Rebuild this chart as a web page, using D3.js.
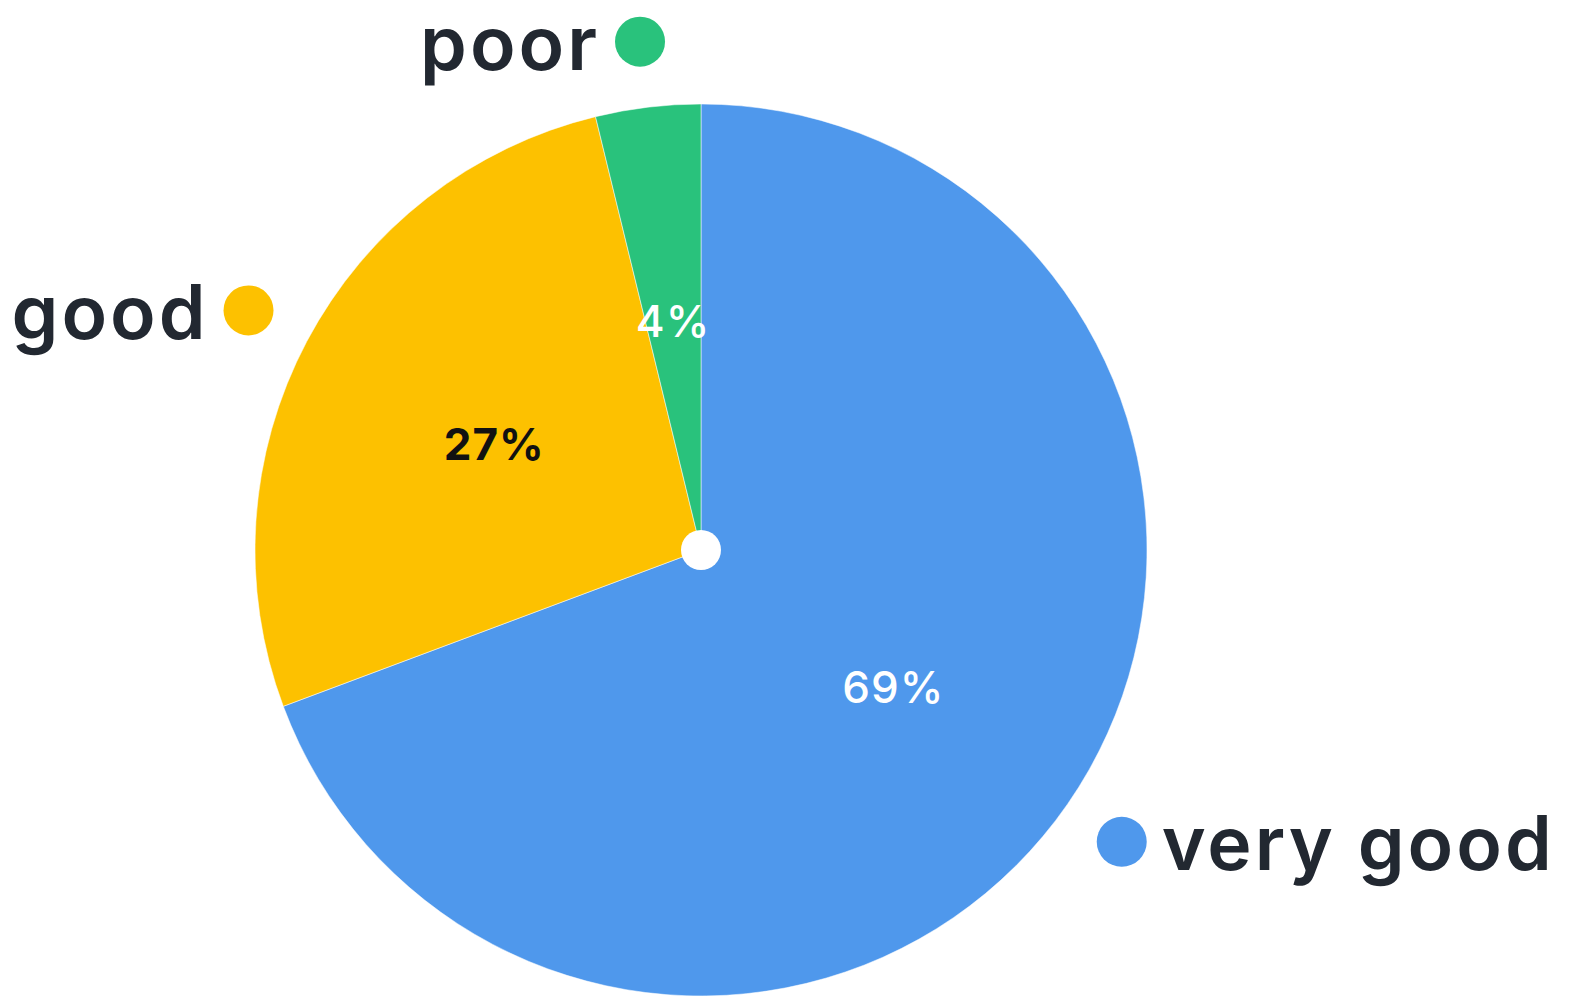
<!DOCTYPE html>
<html><head><meta charset="utf-8">
<script src="https://cdn.jsdelivr.net/npm/d3@7"></script>
<style>html,body{margin:0;padding:0;background:#fff;}svg{display:block;}</style>
</head><body>
<svg id="chart" width="1571" height="1000"></svg>
<script>
const categories = ["very good", "good", "poor"];
const values = [69.3, 26.9, 3.8];
const percentLabels = ["69%", "27%", "4%"];
const colors = ["#4f98ec", "#fdc100", "#29c27c"];
const percentColors = ["#ffffff", "#111111", "#ffffff"];

const svg = d3.select("#chart");
const cx = 701, cy = 550, R = 446;
const g = svg.append("g").attr("transform", `translate(${cx},${cy})`);
const data = categories.map((c, i) => ({cat: c, value: values[i], i}));
const pie = d3.pie().value(d => d.value).sort(null);
const arcs = pie(data);
const arc = d3.arc().innerRadius(0).outerRadius(R);
const labelArc = d3.arc().innerRadius(234).outerRadius(234);
const dotArc = d3.arc().innerRadius(512).outerRadius(512);
const fontFam = "Inter, Lato, 'Open Sans', sans-serif";

g.selectAll("path.slice").data(arcs).join("path")
  .attr("class", "slice")
  .attr("d", arc)
  .attr("fill", d => colors[d.data.i])
  .attr("stroke", "#ffffff").attr("stroke-width", 1).attr("stroke-opacity", 0.5);

g.append("circle").attr("r", 20).attr("fill", "#ffffff");

g.selectAll("text.pct").data(arcs).join("text")
  .attr("class", "pct")
  .attr("transform", d => `translate(${labelArc.centroid(d)})`)
  .attr("text-anchor", "middle").attr("dy", "0.45em")
  .attr("font-family", fontFam)
  .attr("font-size", 44)
  .attr("letter-spacing", 1)
  .attr("font-weight", d => d.data.i === 1 ? 700 : 500)
  .attr("fill", d => percentColors[d.data.i])
  .text(d => percentLabels[d.data.i]);

const outer = g.selectAll("g.outer").data(arcs).join("g")
  .attr("class", "outer")
  .attr("transform", d => `translate(${dotArc.centroid(d)})`);
outer.append("circle").attr("r", 25).attr("fill", d => colors[d.data.i]);
outer.append("text")
  .attr("x", d => { const a = (d.startAngle + d.endAngle) / 2; return a < Math.PI ? 40 : -40; })
  .attr("text-anchor", d => { const a = (d.startAngle + d.endAngle) / 2; return a < Math.PI ? "start" : "end"; })
  .attr("dy", "0.38em")
  .attr("font-family", fontFam)
  .attr("font-size", 75)
  .attr("letter-spacing", 3)
  .attr("font-weight", 600)
  .attr("fill", "#222831")
  .text(d => d.data.cat);
</script>
</body></html>
